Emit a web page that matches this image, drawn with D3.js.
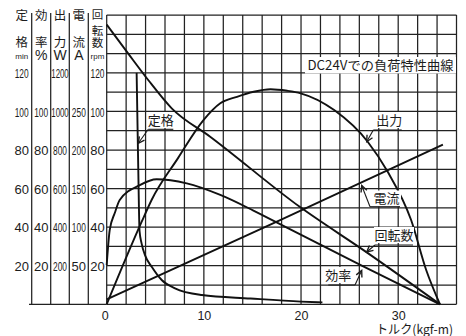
<!DOCTYPE html>
<html>
<head>
<meta charset="utf-8">
<script src="https://cdn.jsdelivr.net/npm/d3@7"></script>
<style>
  body { margin: 0; background: #fff; }
  text { font-family: "Liberation Sans", "DejaVu Sans", sans-serif; fill: #1c1c1c; }
  .jp { font-family: "Noto Sans CJK JP", sans-serif; }
</style>
</head>
<body>
<svg id="chart" width="466" height="336"></svg>
<script>
// Load characteristics at DC24V
// every series is [torque kgf-m, value in its own unit]
const ratingMin = [[3.08, 120], [3.25, 70], [3.38, 38], [3.59, 31.6], [3.93, 25.6], [4.65, 19.3],
  [5.66, 12.6], [7.03, 8.3], [9.79, 4.8], [14.8, 3], [20, 1.4], [22.2, 1]];
const efficiencyPct = [[0, 20.4], [0.31, 38.5], [0.83, 47.3], [1.34, 54.1], [3.41, 61.8], [5.14, 64.8],
  [8.24, 62.7], [11.69, 56.7], [15.1, 48.6], [18.9, 38.8], [26.3, 19.9], [34.3, 0]];
const outputW = [[0, 0], [3.59, 427], [4.62, 541], [7.34, 758], [9.96, 955], [11.69, 1042], [13.41, 1076],
  [15.13, 1102], [16.86, 1115], [18.58, 1107], [19.96, 1094], [23.41, 1007], [26.86, 843], [28.92, 687],
  [31.33, 437], [32.88, 178], [34.3, 0]];
const currentA = [[0, 6.5], [17.85, 109], [34.6, 207]];
const speedRpm = [[0, 145], [2.2, 130.1], [4.27, 116.3], [6.69, 101.6], [10.65, 86.9], [19.9, 50.4],
  [26.8, 26.8], [34.3, 0]];

// tick labels
const torqueTicks = [0, 10, 20, 30];
const minTicks = [20, 40, 60, 80, 100, 120];
const pctTicks = [20, 40, 60, 80, 100];
const wattTicks = [200, 400, 600, 800, 1000, 1200];
const ampTicks = [50, 100, 150, 200, 250];
const rpmTicks = [20, 40, 60, 80, 100, 120];

const ink = "#1c1c1c";
const svg = d3.select("#chart");

const plotLeft = 106.7, plotRight = 456.5, plotTop = 15, plotBottom = 304.3;
const x = d3.scaleLinear().domain([0, 36]).range([plotLeft, plotRight]);
const yMin = d3.scaleLinear().domain([0, 150]).range([plotBottom, plotTop]);
const yPct = yMin.copy();
const yRpm = yMin.copy();
const yW = d3.scaleLinear().domain([0, 1500]).range([plotBottom, plotTop]);
const yA = d3.scaleLinear().domain([0, 375]).range([plotBottom, plotTop]);

// grid
const grid = svg.append("g").attr("stroke", "#222").attr("stroke-width", 1.25);
grid.selectAll("line.v")
  .data(d3.range(0, 36.1, 2))
  .enter().append("line")
  .attr("class", "v")
  .attr("x1", (d) => x(d)).attr("x2", (d) => x(d))
  .attr("y1", plotTop).attr("y2", plotBottom);
grid.selectAll("line.h")
  .data(d3.range(0, 151, 10))
  .enter().append("line")
  .attr("class", "h")
  .attr("x1", plotLeft).attr("x2", plotRight)
  .attr("y1", (d) => yMin(d)).attr("y2", (d) => yMin(d));

// left-hand scale columns
const dividers = [31.7, 50.7, 69.3, 88.3];
grid.selectAll("line.d")
  .data(dividers)
  .enter().append("line")
  .attr("class", "d")
  .attr("x1", (d) => d).attr("x2", (d) => d)
  .attr("y1", 13).attr("y2", plotBottom);
grid.append("line")
  .attr("x1", 29).attr("x2", plotLeft)
  .attr("y1", plotBottom).attr("y2", plotBottom);

const columns = [
  { cx: 21.7, head: [["定", 15.3], ["格", 42.5]], unit: "min", big: false, scale: yMin, ticks: minTicks },
  { cx: 41.2, head: [["効", 15.3], ["率", 42.5]], unit: "%", big: true, scale: yPct, ticks: pctTicks },
  { cx: 60, head: [["出", 15.3], ["力", 42.5]], unit: "W", big: true, scale: yW, ticks: wattTicks },
  { cx: 78.8, head: [["電", 15.3], ["流", 42.5]], unit: "A", big: true, scale: yA, ticks: ampTicks },
  { cx: 97.5, head: [["回", 15.3], ["転", 30.6], ["数", 42.6]], unit: "rpm", big: false, scale: yRpm, ticks: rpmTicks }
];

// squeeze long numbers horizontally, like the condensed type of the original
const fitWidth = { 3: 14, 4: 17.5 };

columns.forEach((col) => {
  const g = svg.append("g").attr("transform", `translate(${col.cx},0)`);

  g.call(d3.axisLeft(col.scale).tickValues(col.ticks).tickSize(0).tickFormat(d3.format("d")));
  g.select(".domain").remove();
  g.selectAll(".tick text")
    .attr("x", 0)
    .attr("dy", "0.36em")
    .attr("text-anchor", "middle")
    .style("font-family", '"Liberation Sans", sans-serif')
    .style("font-size", "13px")
    .style("fill", ink)
    .each(function(d) {
      const target = fitWidth[String(d).length];
      if (!target) return;
      const w = this.getComputedTextLength();
      if (w > target) d3.select(this).attr("transform", `scale(${target / w},1)`);
    });

  // the three-character heading is packed tighter
  const headSize = col.head.length > 2 ? "11.5px" : "12.5px";
  col.head.forEach(([ch, cy]) => {
    g.append("text")
      .attr("class", "jp")
      .attr("x", 0).attr("y", cy)
      .attr("dy", "0.36em")
      .attr("text-anchor", "middle")
      .style("font-size", headSize)
      .text(ch);
  });

  g.append("text")
    .attr("x", 0)
    .attr("y", col.big ? 55.3 : 56.5)
    .attr("dy", "0.36em")
    .attr("text-anchor", "middle")
    .style("font-size", col.big ? "14px" : "8px")
    .text(col.unit);
});

// torque axis
const xAxis = svg.append("g").attr("transform", `translate(0,${plotBottom})`)
  .call(d3.axisBottom(x).tickValues(torqueTicks).tickSize(0));
xAxis.select(".domain").remove();
xAxis.selectAll(".tick text")
  .attr("y", 11)
  .attr("dy", "0.36em")
  .style("font-family", '"Liberation Sans", sans-serif')
  .style("font-size", "12.5px")
  .style("fill", ink);
xAxis.selectAll(".tick")
  .filter((d) => d === 0)
  .select("text").attr("dx", -2);

svg.append("text")
  .attr("class", "jp")
  .attr("x", 414.5).attr("y", 329)
  .attr("dy", "0.36em")
  .attr("text-anchor", "middle")
  .attr("textLength", 77)
  .attr("lengthAdjust", "spacingAndGlyphs")
  .style("font-size", "12.5px")
  .text("トルク(kgf-m)");

// curves
const curves = [
  { data: ratingMin, y: yMin },
  { data: efficiencyPct, y: yPct },
  { data: outputW, y: yW },
  { data: currentA, y: yA },
  { data: speedRpm, y: yRpm }
];

svg.append("g")
  .selectAll("path")
  .data(curves)
  .enter().append("path")
  .attr("fill", "none")
  .attr("stroke", "#111")
  .attr("stroke-width", 1.9)
  .attr("stroke-linejoin", "round")
  .attr("d", (c) => d3.line()
    .x((d) => x(d[0]))
    .y((d) => c.y(d[1]))
    .curve(d3.curveMonotoneX)(c.data));

// title box
svg.append("rect")
  .attr("x", 305).attr("y", 57)
  .attr("width", 151).attr("height", 16.5)
  .attr("fill", "#fff");
svg.append("text")
  .attr("class", "jp")
  .attr("x", 380.5).attr("y", 65.2)
  .attr("dy", "0.36em")
  .attr("text-anchor", "middle")
  .attr("textLength", 146)
  .attr("lengthAdjust", "spacingAndGlyphs")
  .style("font-size", "13px")
  .text("DC24Vでの負荷特性曲線");

// curve labels with leader lines
const notes = [
  { text: "定格", tx: 160.8, ty: 120, u: [148.3, 173.3], uy: 129.3, from: [148.3, 129.3], tip: [138.3, 143.3] },
  { text: "出力", tx: 389.2, ty: 120, u: [373.3, 401.7], uy: 130, from: [373.3, 130], tip: [366.7, 141.7] },
  { text: "電流", tx: 386.5, ty: 198.5, u: [370, 400], uy: 206.7, from: [370, 206.7], tip: [361.7, 185.5] },
  { text: "回転数", tx: 394, ty: 235, u: [375, 413], uy: 245, from: [375, 245], tip: [366.7, 252] },
  { text: "効率", tx: 338.3, ty: 275, u: [328.3, 355], uy: 285, from: [355, 285], tip: [361.7, 270.5] }
];

svg.append("defs").append("marker")
  .attr("id", "tip")
  .attr("markerUnits", "userSpaceOnUse")
  .attr("markerWidth", 10).attr("markerHeight", 10)
  .attr("viewBox", "-6 -4 8 8")
  .attr("refX", 0).attr("refY", 0)
  .attr("orient", "auto")
  .append("path")
  .attr("d", "M-5,-2.5L0,0L-5,2.5")
  .attr("fill", "none")
  .attr("stroke", ink)
  .attr("stroke-width", 1.1);

const noteG = svg.append("g").selectAll("g").data(notes).enter().append("g");

noteG.append("rect")
  .attr("x", (d) => d.u[0] - 1)
  .attr("y", (d) => d.ty - 8)
  .attr("width", (d) => d.u[1] - d.u[0] + 2)
  .attr("height", 16)
  .attr("fill", "#fff");

noteG.append("text")
  .attr("class", "jp")
  .attr("x", (d) => d.tx).attr("y", (d) => d.ty)
  .attr("dy", "0.36em")
  .attr("text-anchor", "middle")
  .style("font-size", "13px")
  .text((d) => d.text);

noteG.append("line")
  .attr("x1", (d) => d.u[0]).attr("x2", (d) => d.u[1])
  .attr("y1", (d) => d.uy).attr("y2", (d) => d.uy)
  .attr("stroke", ink).attr("stroke-width", 1.1);

noteG.append("line")
  .attr("x1", (d) => d.from[0]).attr("y1", (d) => d.from[1])
  .attr("x2", (d) => d.tip[0]).attr("y2", (d) => d.tip[1])
  .attr("stroke", ink).attr("stroke-width", 1.1)
  .attr("marker-end", "url(#tip)");
</script>
</body>
</html>
